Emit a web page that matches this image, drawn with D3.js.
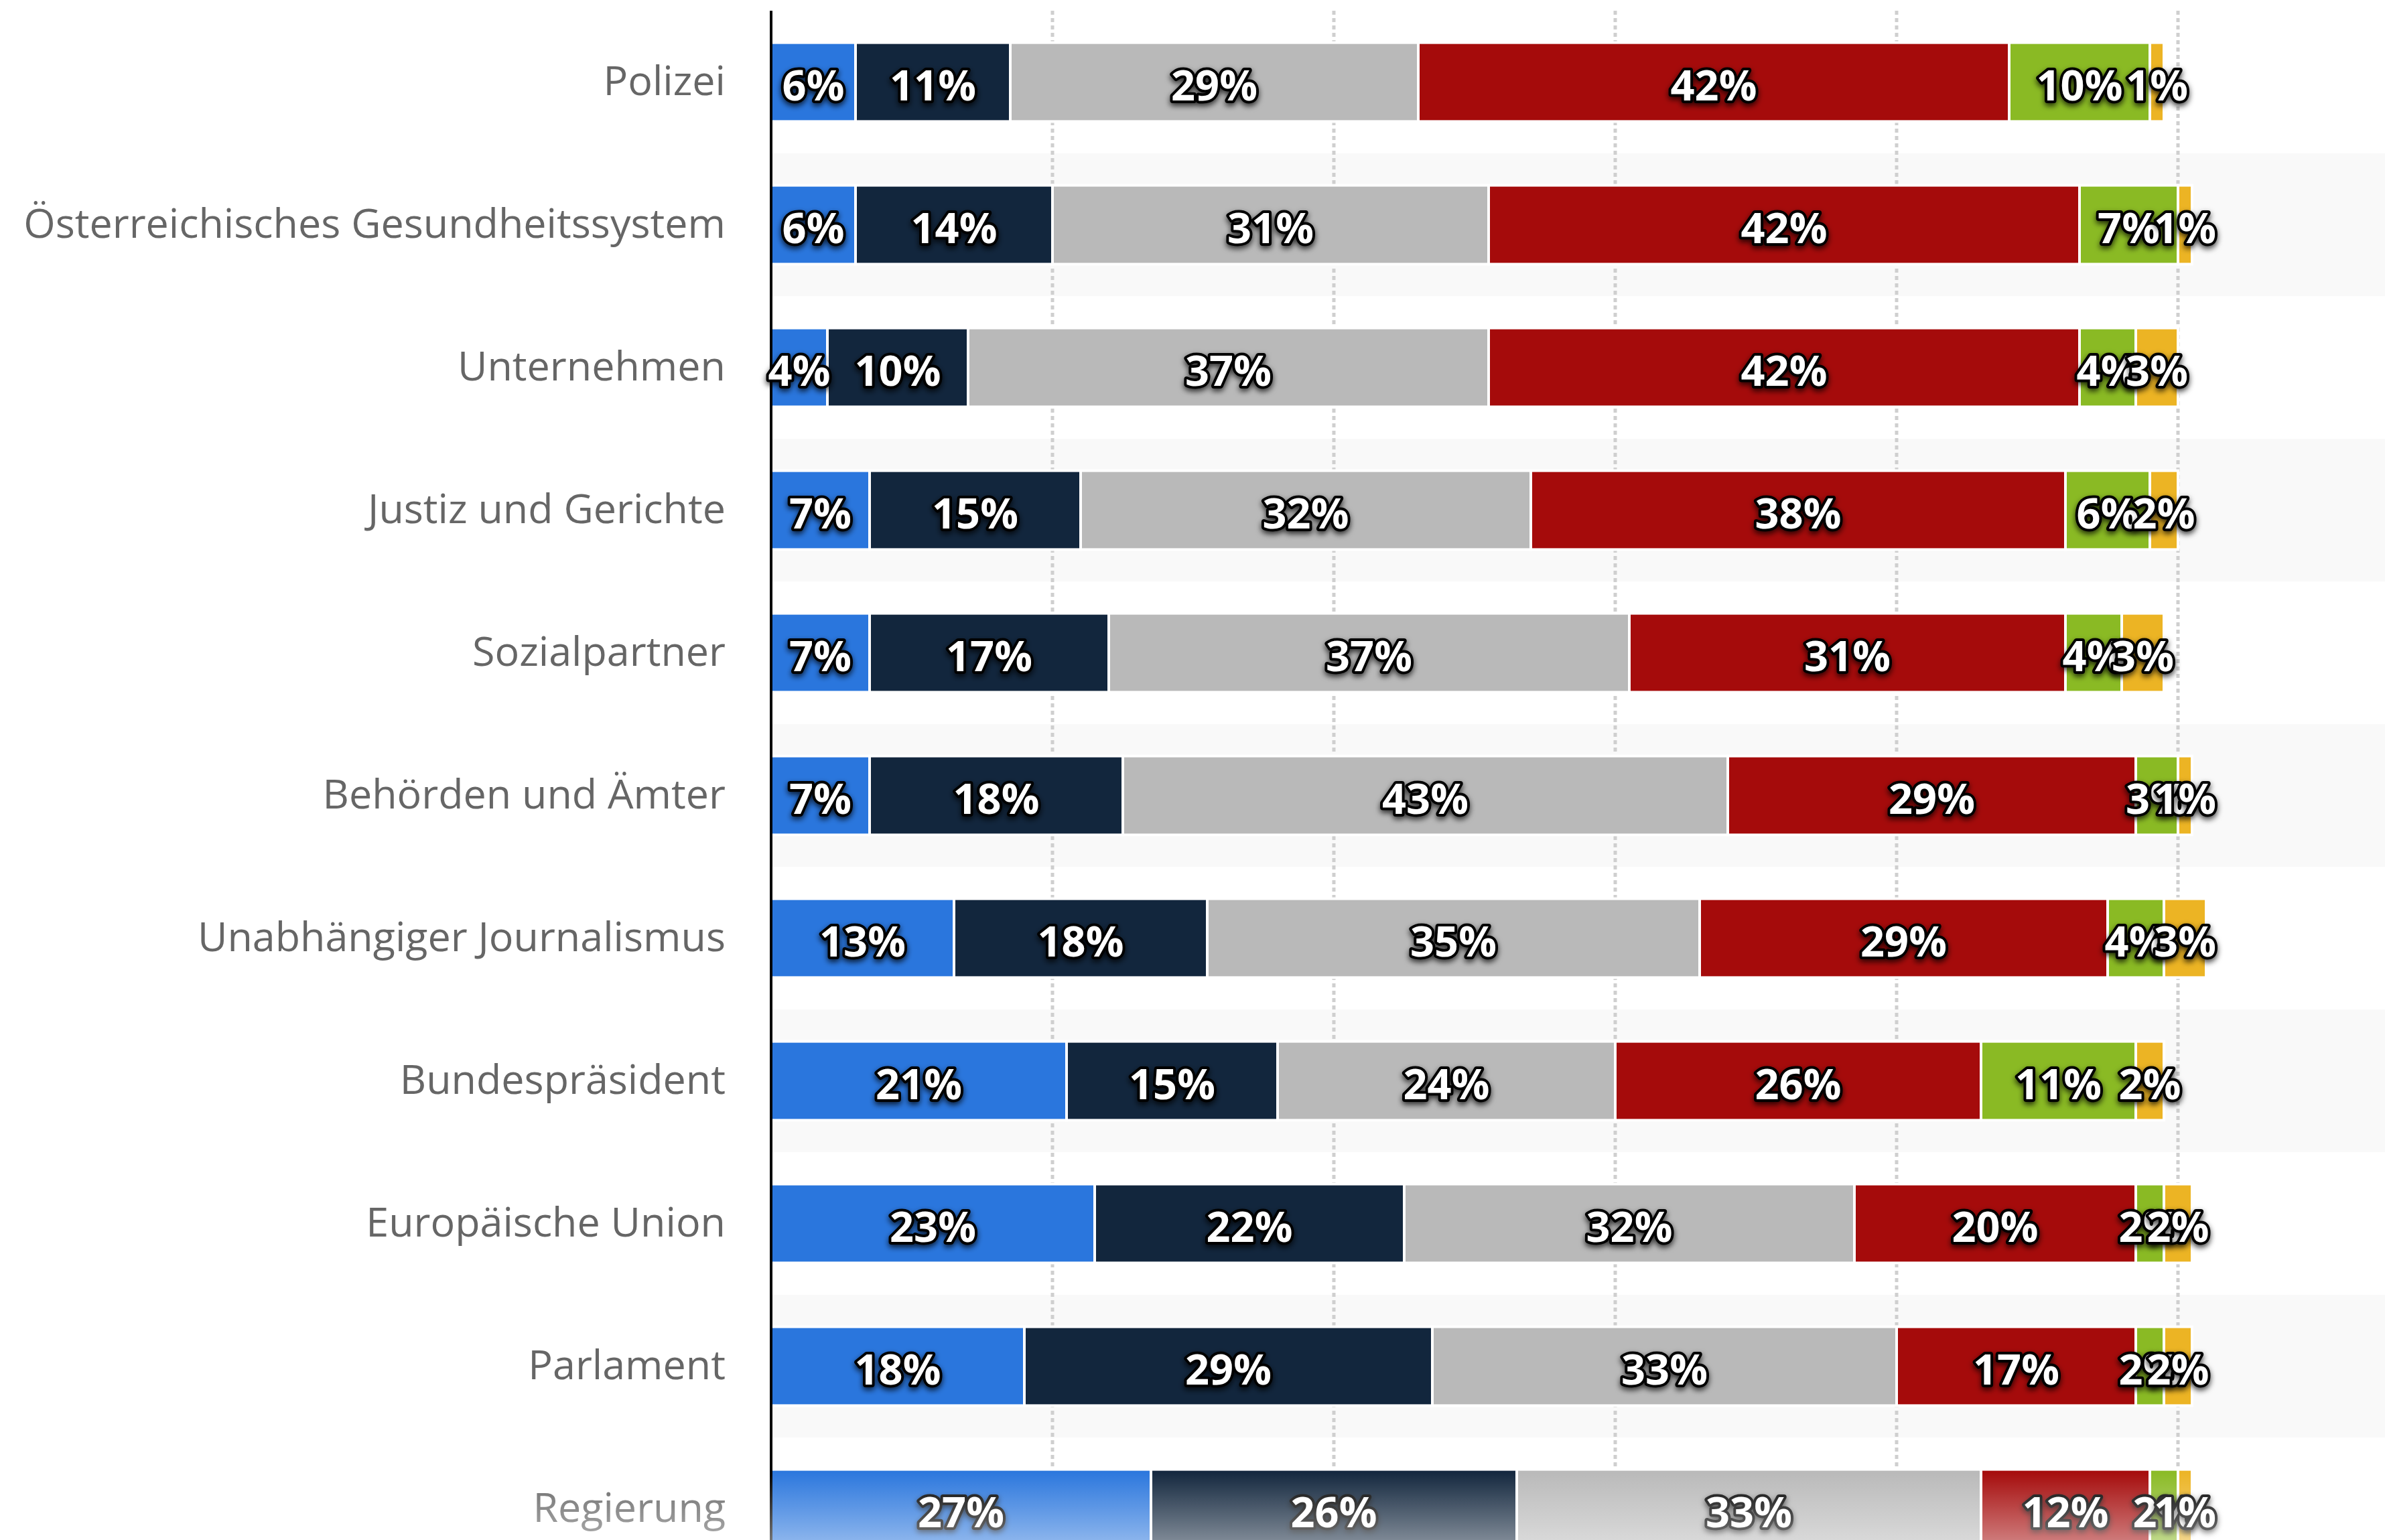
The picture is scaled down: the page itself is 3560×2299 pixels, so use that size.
<!doctype html>
<html>
  <head>
    <meta charset="utf-8">
    <title>Vertrauen in Institutionen</title>
    <style>
      body { margin: 0; background: #fff; }
      svg { display: block; }
      .kategorie text { font-family: "Open Sans", sans-serif; font-size: 61px; fill: #666; }
      .wert { font-family: "Open Sans", sans-serif; font-weight: bold; font-size: 63px; fill: #fff;
              stroke: #000; stroke-width: 8px; stroke-linejoin: round; paint-order: stroke; }
    </style>
    <script src="https://cdnjs.cloudflare.com/ajax/libs/d3/7.8.5/d3.min.js"></script>
  </head>
  <body>
    <div id="chart"></div>
    <script>
      // Daten (von oben nach unten)
      const categories = ["Polizei", "Österreichisches Gesundheitssystem", "Unternehmen",
        "Justiz und Gerichte", "Sozialpartner", "Behörden und Ämter",
        "Unabhängiger Journalismus", "Bundespräsident", "Europäische Union",
        "Parlament", "Regierung"];
      const blau       = [6, 6, 4, 7, 7, 7, 13, 21, 23, 18, 27];
      const dunkelblau = [11, 14, 10, 15, 17, 18, 18, 15, 22, 29, 26];
      const grau       = [29, 31, 37, 32, 37, 43, 35, 24, 32, 33, 33];
      const rot        = [42, 42, 42, 38, 31, 29, 29, 26, 20, 17, 12];
      const gruen      = [10, 7, 4, 6, 4, 3, 4, 11, 2, 2, 2];
      const gelb       = [1, 1, 3, 2, 3, 1, 3, 2, 2, 2, 1];
      const xTicks = [20, 40, 60, 80, 100];

      const keys = ["blau", "dunkelblau", "grau", "rot", "gruen", "gelb"];
      const serien = { blau, dunkelblau, grau, rot, gruen, gelb };
      const farben = { blau: "#2a76dd", dunkelblau: "#12263d", grau: "#b9b9b9",
                       rot: "#a50b0b", gruen: "#8aba24", gelb: "#ecb424" };

      // Tabelle für d3.stack
      const table = categories.map(function(c, i) {
        const row = { kategorie: c };
        keys.forEach(function(k) { row[k] = serien[k][i]; });
        return row;
      });

      const width = 3560, height = 2299;
      const plotLeft = 1151, plotTop = 16, step = 213;

      const svg = d3.select('#chart').append('svg')
        .attr('width', width)
        .attr('height', height);

      const defs = svg.append('defs');
      const shadow = defs.append('filter').attr('id', 'schatten')
        .attr('x', '-20%').attr('y', '-40%').attr('width', '140%').attr('height', '180%');
      shadow.append('feDropShadow')
        .attr('dx', 0).attr('dy', 4).attr('stdDeviation', 4)
        .attr('flood-color', '#000').attr('flood-opacity', 0.75);

      const fade = defs.append('linearGradient').attr('id', 'fade')
        .attr('x1', 0).attr('y1', 0).attr('x2', 0).attr('y2', 1);
      fade.append('stop').attr('offset', '0%').attr('stop-color', '#fff').attr('stop-opacity', 0);
      fade.append('stop').attr('offset', '100%').attr('stop-color', '#fff').attr('stop-opacity', 0.45);

      const x = d3.scaleLinear().domain([0, 100]).range([plotLeft, plotLeft + 2100]);
      const y = d3.scaleBand()
        .domain(categories)
        .range([plotTop, plotTop + step * categories.length])
        .paddingInner(0.447)
        .paddingOuter(0.2235);

      // jede zweite Zeile leicht grau hinterlegt
      svg.append('g').selectAll('rect')
        .data(categories.filter(function(d, i) { return i % 2 == 1; }))
        .join('rect')
        .attr('x', plotLeft)
        .attr('y', function(d) { return y(d) - y.step() * y.paddingInner() / 2; })
        .attr('width', width - plotLeft)
        .attr('height', y.step())
        .attr('fill', '#f9f9f9');

      // gepunktete Gitterlinien
      svg.append('g').selectAll('line')
        .data(xTicks)
        .join('line')
        .attr('x1', function(d) { return x(d); })
        .attr('x2', function(d) { return x(d); })
        .attr('y1', plotTop)
        .attr('y2', height)
        .attr('stroke', '#cfcfcf')
        .attr('stroke-width', 5)
        .attr('stroke-dasharray', '6 5');

      const stacked = d3.stack().keys(keys)(table);

      // Balken
      svg.append('g').selectAll('g')
        .data(stacked)
        .join('g')
        .attr('fill', function(d) { return farben[d.key]; })
        .selectAll('rect')
        .data(function(d) { return d; })
        .join('rect')
        .attr('x', function(d) { return x(d[0]); })
        .attr('y', function(d) { return y(d.data.kategorie); })
        .attr('width', function(d) { return x(d[1]) - x(d[0]); })
        .attr('height', y.bandwidth())
        .attr('stroke', '#fff')
        .attr('stroke-width', 4);

      // Achse mit Beschriftung
      const axis = svg.append('g')
        .attr('class', 'kategorie')
        .attr('transform', 'translate(' + plotLeft + ',0)')
        .call(d3.axisLeft(y).tickSize(0).tickSizeOuter(0).tickPadding(68));
      axis.select('.domain').attr('stroke', '#000').attr('stroke-width', 4)
        .attr('d', 'M0,' + plotTop + 'V' + height);

      // Prozentwerte
      stacked.forEach(function(s) {
        svg.append('g').selectAll('text')
          .data(s)
          .join('text')
          .attr('class', 'wert')
          .attr('filter', 'url(#schatten)')
          .attr('x', function(d) { return x((d[0] + d[1]) / 2); })
          .attr('y', function(d) { return y(d.data.kategorie) + y.bandwidth() / 2; })
          .attr('dy', '0.44em')
          .attr('text-anchor', 'middle')
          .text(function(d) { return (d[1] - d[0]) + '%'; });
      });

      // unten ausblenden
      svg.append('rect')
        .attr('x', 0).attr('y', 2195)
        .attr('width', width).attr('height', height - 2195)
        .attr('fill', 'url(#fade)');
    </script>
  </body>
</html>
